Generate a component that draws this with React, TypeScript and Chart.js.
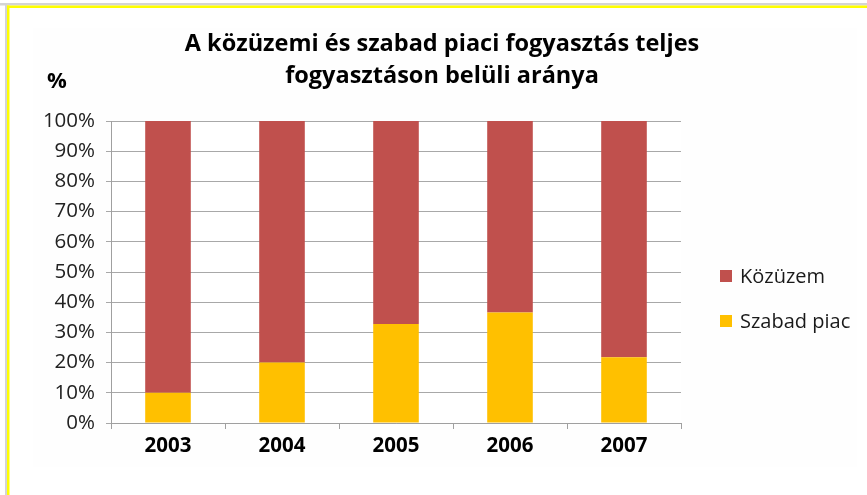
import React, { useEffect, useRef } from "react";
import { Chart, registerables } from "chart.js";

Chart.register(...registerables);

const years = ["2003", "2004", "2005", "2006", "2007"];
const szabadPiac = [10, 20, 32.8, 36.6, 21.8];
const kozuzem = [90, 80, 67.2, 63.4, 78.2];
const titleLines = ["A közüzemi és szabad piaci fogyasztás teljes", "fogyasztáson belüli aránya"];
const unitLabel = "%";
const legendItems = [
  { label: "Közüzem", color: "#C0504D" },
  { label: "Szabad piac", color: "#FFC000" },
];

const FONT = "'Open Sans', 'Liberation Sans', sans-serif";

const decor = {
  id: "decor",
  beforeDraw(chart: any) {
    const ctx = chart.ctx;
    ctx.save();
    ctx.fillStyle = "#ffffff";
    ctx.fillRect(0, 0, chart.width, chart.height);
    ctx.fillStyle = "#fefefe";
    ctx.fillRect(33, 28, 824, 439);
    const a = chart.chartArea;
    ctx.fillStyle = "#ffffff";
    ctx.fillRect(a.left, a.top, a.right - a.left, a.bottom - a.top);
    // frame
    ctx.fillStyle = "#d4d4d4";
    ctx.fillRect(0, 3, chart.width, 2.5);
    ctx.fillRect(5, 3, 2, chart.height);
    ctx.fillStyle = "#ffff00";
    ctx.fillRect(7, 5.5, chart.width, 2.5);
    ctx.fillRect(7, 5.5, 2.5, chart.height);
    ctx.restore();
  },
  afterDraw(chart: any) {
    const ctx = chart.ctx;
    ctx.save();
    ctx.fillStyle = "#000000";
    ctx.textAlign = "center";
    ctx.textBaseline = "middle";
    ctx.font = `bold 23.5px ${FONT}`;
    ctx.fillText(titleLines[0], 442, 44);
    ctx.fillText(titleLines[1], 442, 76);
    ctx.font = `bold 22px ${FONT}`;
    ctx.fillText(unitLabel, 57, 82);
    ctx.textAlign = "left";
    ctx.font = `20px ${FONT}`;
    legendItems.forEach((it, i) => {
      const y = 276 + i * 45;
      ctx.fillStyle = it.color;
      ctx.fillRect(720, y - 6, 12, 12);
      ctx.fillStyle = "#1a1a1a";
      ctx.fillText(it.label, 740, y + 1);
    });
    ctx.restore();
  },
};

export default function App() {
  const ref = useRef<HTMLCanvasElement>(null);
  useEffect(() => {
    if (!ref.current) return;
    const chart = new Chart(ref.current, {
      type: "bar",
      data: {
        labels: years,
        datasets: [
          {
            label: "Szabad piac",
            data: szabadPiac,
            backgroundColor: "#FFC000",
            barPercentage: 0.4,
            categoryPercentage: 1,
          },
          {
            label: "Közüzem",
            data: kozuzem,
            backgroundColor: "#C0504D",
            barPercentage: 0.4,
            categoryPercentage: 1,
          },
        ],
      },
      options: {
        responsive: false,
        animation: false,
        layout: { padding: { left: 0, top: 121, right: 186, bottom: 0 } },
        plugins: {
          legend: { display: false },
          title: { display: false },
          tooltip: { enabled: false },
        },
        scales: {
          x: {
            stacked: true,
            afterFit: (s: any) => {
              s.height = 72;
            },
            grid: {
              offset: true,
              drawOnChartArea: false,
              drawTicks: true,
              tickLength: 6,
              color: "#a0a0a0",
            },
            border: { color: "#a0a0a0" },
            ticks: {
              padding: 5,
              color: "#000000",
              font: { family: FONT, size: 20.5, weight: "bold" },
            },
          },
          y: {
            stacked: true,
            min: 0,
            max: 100,
            afterFit: (s: any) => {
              s.width = 111;
            },
            grid: { color: "#a8a8a8", tickLength: 5 },
            border: { color: "#a0a0a0" },
            ticks: {
              stepSize: 10,
              padding: 11,
              color: "#222222",
              font: { family: FONT, size: 20.5 },
              callback: (v: any) => v + "%",
            },
          },
        },
      },
      plugins: [decor],
    });
    return () => chart.destroy();
  }, []);
  return (
    <canvas
      ref={ref}
      width={867}
      height={495}
      style={{ position: "absolute", left: 0, top: 0, display: "block" }}
    />
  );
}
